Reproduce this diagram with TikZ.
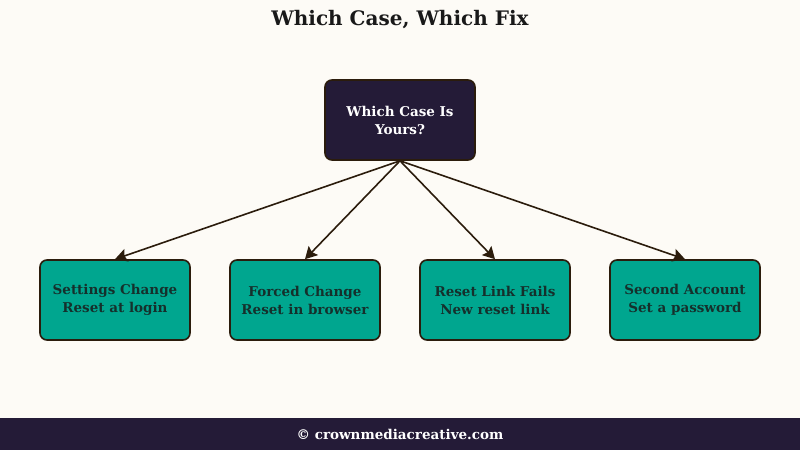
\documentclass[tikz,border=0pt]{standalone}
\usepackage{fontspec}
\setmainfont{DejaVu Serif}
\usetikzlibrary{arrows.meta}
\definecolor{bgc}{HTML}{FDFBF6}
\definecolor{navy}{HTML}{241B37}
\definecolor{teal}{HTML}{00A68F}
\definecolor{edge}{HTML}{2B1C0C}
\definecolor{tdark}{HTML}{15302C}
\tikzset{
  root/.style={draw=edge, line width=1.6pt, fill=navy, rounded corners=7pt, minimum width=150pt, minimum height=80pt, text=white, font=\bfseries\fontsize{13.5}{18}\selectfont, align=center},
  leaf/.style={draw=edge, line width=1.6pt, fill=teal, rounded corners=7pt, minimum width=150pt, minimum height=80pt, text=tdark, font=\bfseries\fontsize{13.5}{18}\selectfont, align=center},
  conn/.style={draw=edge, line width=1.6pt, -{Stealth[length=12pt,width=13pt,inset=2pt]}}
}
\begin{document}
\begin{tikzpicture}[x=1pt,y=-1pt]
\fill[bgc] (0,0) rectangle (800,450);
\fill[navy] (0,418) rectangle (800,450);
\node[font=\bfseries\fontsize{20}{24}\selectfont, text=black!90] (title) at (400,20) {Which Case, Which Fix};
\node[root] (r) at (400,120) {Which Case Is\\Yours?};
\node[leaf] (a) at (115,300) {Settings Change\\Reset at login};
\node[leaf] (b) at (305,300) {Forced Change\\Reset in browser};
\node[leaf] (c) at (495,300) {Reset Link Fails\\New reset link};
\node[leaf] (d) at (685,300) {Second Account\\Set a password};
\foreach \n in {a,b,c,d} \draw[conn] (r.south) -- (\n.north);
\node[text=white, font=\bfseries\fontsize{13.5}{16}\selectfont] (foot) at (400,434) {© crownmediacreative.com};
\end{tikzpicture}
\end{document}
